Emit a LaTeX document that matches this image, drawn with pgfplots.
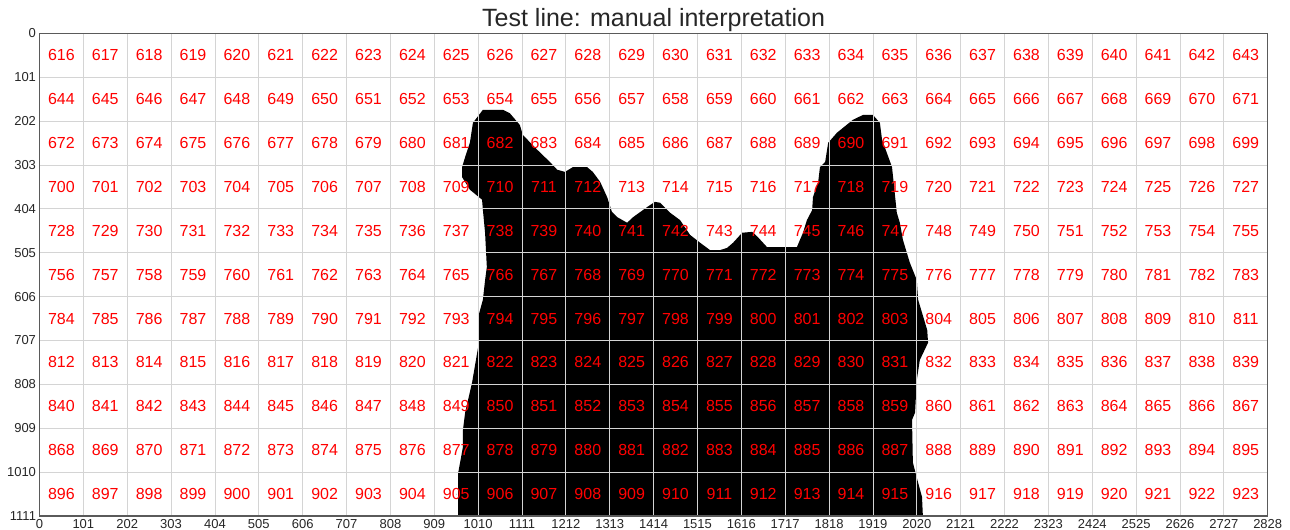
\documentclass[border=0pt]{standalone}
\usepackage{pgfplots}
\pgfplotsset{compat=1.18}
\usepackage{pgfplotstable}
\usepackage{fontspec}
\setmainfont{Liberation Sans}
\definecolor{txt}{HTML}{262626}
\definecolor{gridc}{HTML}{D4D4D4}
\definecolor{framec}{HTML}{5A5A5A}
\pgfplotstableread{
x y l
50.5 50.5 616
151.5 50.5 617
252.5 50.5 618
353.5 50.5 619
454.5 50.5 620
555.5 50.5 621
656.5 50.5 622
757.5 50.5 623
858.5 50.5 624
959.5 50.5 625
1060.5 50.5 626
1161.5 50.5 627
1262.5 50.5 628
1363.5 50.5 629
1464.5 50.5 630
1565.5 50.5 631
1666.5 50.5 632
1767.5 50.5 633
1868.5 50.5 634
1969.5 50.5 635
2070.5 50.5 636
2171.5 50.5 637
2272.5 50.5 638
2373.5 50.5 639
2474.5 50.5 640
2575.5 50.5 641
2676.5 50.5 642
2777.5 50.5 643
50.5 151.5 644
151.5 151.5 645
252.5 151.5 646
353.5 151.5 647
454.5 151.5 648
555.5 151.5 649
656.5 151.5 650
757.5 151.5 651
858.5 151.5 652
959.5 151.5 653
1060.5 151.5 654
1161.5 151.5 655
1262.5 151.5 656
1363.5 151.5 657
1464.5 151.5 658
1565.5 151.5 659
1666.5 151.5 660
1767.5 151.5 661
1868.5 151.5 662
1969.5 151.5 663
2070.5 151.5 664
2171.5 151.5 665
2272.5 151.5 666
2373.5 151.5 667
2474.5 151.5 668
2575.5 151.5 669
2676.5 151.5 670
2777.5 151.5 671
50.5 252.5 672
151.5 252.5 673
252.5 252.5 674
353.5 252.5 675
454.5 252.5 676
555.5 252.5 677
656.5 252.5 678
757.5 252.5 679
858.5 252.5 680
959.5 252.5 681
1060.5 252.5 682
1161.5 252.5 683
1262.5 252.5 684
1363.5 252.5 685
1464.5 252.5 686
1565.5 252.5 687
1666.5 252.5 688
1767.5 252.5 689
1868.5 252.5 690
1969.5 252.5 691
2070.5 252.5 692
2171.5 252.5 693
2272.5 252.5 694
2373.5 252.5 695
2474.5 252.5 696
2575.5 252.5 697
2676.5 252.5 698
2777.5 252.5 699
50.5 353.5 700
151.5 353.5 701
252.5 353.5 702
353.5 353.5 703
454.5 353.5 704
555.5 353.5 705
656.5 353.5 706
757.5 353.5 707
858.5 353.5 708
959.5 353.5 709
1060.5 353.5 710
1161.5 353.5 711
1262.5 353.5 712
1363.5 353.5 713
1464.5 353.5 714
1565.5 353.5 715
1666.5 353.5 716
1767.5 353.5 717
1868.5 353.5 718
1969.5 353.5 719
2070.5 353.5 720
2171.5 353.5 721
2272.5 353.5 722
2373.5 353.5 723
2474.5 353.5 724
2575.5 353.5 725
2676.5 353.5 726
2777.5 353.5 727
50.5 454.5 728
151.5 454.5 729
252.5 454.5 730
353.5 454.5 731
454.5 454.5 732
555.5 454.5 733
656.5 454.5 734
757.5 454.5 735
858.5 454.5 736
959.5 454.5 737
1060.5 454.5 738
1161.5 454.5 739
1262.5 454.5 740
1363.5 454.5 741
1464.5 454.5 742
1565.5 454.5 743
1666.5 454.5 744
1767.5 454.5 745
1868.5 454.5 746
1969.5 454.5 747
2070.5 454.5 748
2171.5 454.5 749
2272.5 454.5 750
2373.5 454.5 751
2474.5 454.5 752
2575.5 454.5 753
2676.5 454.5 754
2777.5 454.5 755
50.5 555.5 756
151.5 555.5 757
252.5 555.5 758
353.5 555.5 759
454.5 555.5 760
555.5 555.5 761
656.5 555.5 762
757.5 555.5 763
858.5 555.5 764
959.5 555.5 765
1060.5 555.5 766
1161.5 555.5 767
1262.5 555.5 768
1363.5 555.5 769
1464.5 555.5 770
1565.5 555.5 771
1666.5 555.5 772
1767.5 555.5 773
1868.5 555.5 774
1969.5 555.5 775
2070.5 555.5 776
2171.5 555.5 777
2272.5 555.5 778
2373.5 555.5 779
2474.5 555.5 780
2575.5 555.5 781
2676.5 555.5 782
2777.5 555.5 783
50.5 656.5 784
151.5 656.5 785
252.5 656.5 786
353.5 656.5 787
454.5 656.5 788
555.5 656.5 789
656.5 656.5 790
757.5 656.5 791
858.5 656.5 792
959.5 656.5 793
1060.5 656.5 794
1161.5 656.5 795
1262.5 656.5 796
1363.5 656.5 797
1464.5 656.5 798
1565.5 656.5 799
1666.5 656.5 800
1767.5 656.5 801
1868.5 656.5 802
1969.5 656.5 803
2070.5 656.5 804
2171.5 656.5 805
2272.5 656.5 806
2373.5 656.5 807
2474.5 656.5 808
2575.5 656.5 809
2676.5 656.5 810
2777.5 656.5 811
50.5 757.5 812
151.5 757.5 813
252.5 757.5 814
353.5 757.5 815
454.5 757.5 816
555.5 757.5 817
656.5 757.5 818
757.5 757.5 819
858.5 757.5 820
959.5 757.5 821
1060.5 757.5 822
1161.5 757.5 823
1262.5 757.5 824
1363.5 757.5 825
1464.5 757.5 826
1565.5 757.5 827
1666.5 757.5 828
1767.5 757.5 829
1868.5 757.5 830
1969.5 757.5 831
2070.5 757.5 832
2171.5 757.5 833
2272.5 757.5 834
2373.5 757.5 835
2474.5 757.5 836
2575.5 757.5 837
2676.5 757.5 838
2777.5 757.5 839
50.5 858.5 840
151.5 858.5 841
252.5 858.5 842
353.5 858.5 843
454.5 858.5 844
555.5 858.5 845
656.5 858.5 846
757.5 858.5 847
858.5 858.5 848
959.5 858.5 849
1060.5 858.5 850
1161.5 858.5 851
1262.5 858.5 852
1363.5 858.5 853
1464.5 858.5 854
1565.5 858.5 855
1666.5 858.5 856
1767.5 858.5 857
1868.5 858.5 858
1969.5 858.5 859
2070.5 858.5 860
2171.5 858.5 861
2272.5 858.5 862
2373.5 858.5 863
2474.5 858.5 864
2575.5 858.5 865
2676.5 858.5 866
2777.5 858.5 867
50.5 959.5 868
151.5 959.5 869
252.5 959.5 870
353.5 959.5 871
454.5 959.5 872
555.5 959.5 873
656.5 959.5 874
757.5 959.5 875
858.5 959.5 876
959.5 959.5 877
1060.5 959.5 878
1161.5 959.5 879
1262.5 959.5 880
1363.5 959.5 881
1464.5 959.5 882
1565.5 959.5 883
1666.5 959.5 884
1767.5 959.5 885
1868.5 959.5 886
1969.5 959.5 887
2070.5 959.5 888
2171.5 959.5 889
2272.5 959.5 890
2373.5 959.5 891
2474.5 959.5 892
2575.5 959.5 893
2676.5 959.5 894
2777.5 959.5 895
50.5 1060.5 896
151.5 1060.5 897
252.5 1060.5 898
353.5 1060.5 899
454.5 1060.5 900
555.5 1060.5 901
656.5 1060.5 902
757.5 1060.5 903
858.5 1060.5 904
959.5 1060.5 905
1060.5 1060.5 906
1161.5 1060.5 907
1262.5 1060.5 908
1363.5 1060.5 909
1464.5 1060.5 910
1565.5 1060.5 911
1666.5 1060.5 912
1767.5 1060.5 913
1868.5 1060.5 914
1969.5 1060.5 915
2070.5 1060.5 916
2171.5 1060.5 917
2272.5 1060.5 918
2373.5 1060.5 919
2474.5 1060.5 920
2575.5 1060.5 921
2676.5 1060.5 922
2777.5 1060.5 923
}\labels
\begin{document}
\begin{tikzpicture}
\begin{axis}[
  at={(0,0)}, anchor=south west,
  scale only axis, width=1228.2bp, height=482.7bp,
  xmin=0, xmax=2828, ymin=0, ymax=1111,
  y dir=reverse,
  xtick={0,101,...,2828}, ytick={0,101,...,1111},
  grid=major,
  grid style={draw=gridc, line width=0.8bp},
  axis line style={draw=framec, line width=1.2bp},
  major tick length=0pt,
  axis on top,
  tick label style={font=\fontsize{13bp}{15bp}\selectfont, text=txt},
  /pgf/number format/set thousands separator={},
  /pgf/number format/assume math mode=true,
  title={Test line: manual interpretation},
  title style={at={(0.5,1)}, anchor=base, yshift=1bp, font=\fontsize{25bp}{29bp}\selectfont, text=txt},
]
\addplot[fill=black, draw=none] coordinates {
(964,1111) (964,1097) (964,1012) (975,952) (975,913) (980,873) (996,804) (1010,722) (1010,653) (1021,613) (1026,568) (1030,538) (1026,460) (1021,407) (1019,383) (991,360) (973,331) (973,308) (980,285) (991,252) (998,206) (1021,176) (1067,176) (1083,184) (1106,211) (1113,234) (1146,268) (1175,296) (1192,314) (1210,319) (1228,308) (1261,308) (1274,319) (1291,342) (1307,377) (1318,411) (1330,423) (1353,436) (1367,423) (1399,400) (1417,388) (1429,390) (1452,413) (1475,430) (1498,464) (1521,482) (1544,499) (1567,499) (1583,494) (1597,482) (1618,459) (1641,457) (1654,469) (1675,492) (1744,492) (1758,459) (1767,430) (1779,407) (1781,377) (1793,342) (1797,308) (1809,296) (1816,252) (1836,229) (1873,199) (1896,188) (1919,188) (1935,206) (1940,245) (1951,275) (1963,308) (1974,413) (1981,436) (1988,475) (1997,505) (2004,528) (2020,568) (2023,613) (2044,683) (2046,712) (2027,752) (2020,798) (2016,873) (2009,890) (2011,988) (2023,1034) (2032,1067) (2034,1111)
} -- cycle;
\addplot[only marks, mark=*, mark options={draw=none, fill=none, scale=0.01},
  point meta=explicit symbolic,
  nodes near coords, nodes near coords align=center,
  every node near coord/.append style={anchor=center, text=red, inner sep=0pt, font=\fontsize{16bp}{18bp}\selectfont}]
  table[x=x, y=y, meta=l] {\labels};
\end{axis}
\pgfresetboundingbox
\useasboundingbox (-39.5bp,-14bp) rectangle (1250.5bp,516bp);
\end{tikzpicture}
\end{document}
